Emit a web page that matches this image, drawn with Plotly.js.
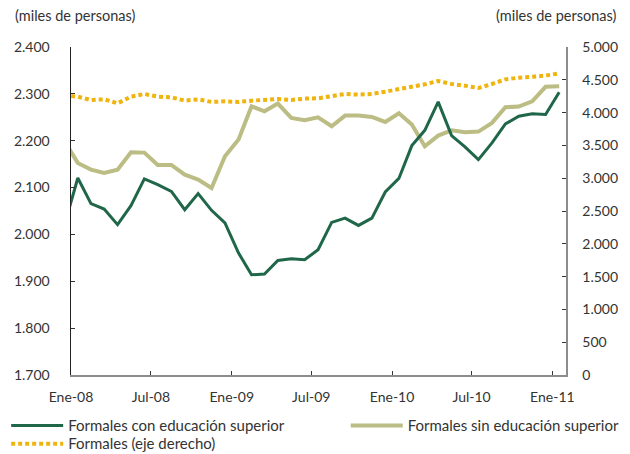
<!DOCTYPE html>
<html><head><meta charset="utf-8">
<script src="https://cdn.plot.ly/plotly-3.0.1.min.js"></script>
<style>html,body{margin:0;padding:0;background:#fff}#chart{width:630px;height:454px}</style>
</head><body><div id="chart"></div>
<script>
const months = [
  "2007-12-01",
  "2008-01-01","2008-02-01","2008-03-01","2008-04-01","2008-05-01","2008-06-01",
  "2008-07-01","2008-08-01","2008-09-01","2008-10-01","2008-11-01","2008-12-01",
  "2009-01-01","2009-02-01","2009-03-01","2009-04-01","2009-05-01","2009-06-01",
  "2009-07-01","2009-08-01","2009-09-01","2009-10-01","2009-11-01","2009-12-01",
  "2010-01-01","2010-02-01","2010-03-01","2010-04-01","2010-05-01","2010-06-01",
  "2010-07-01","2010-08-01","2010-09-01","2010-10-01","2010-11-01","2010-12-01",
  "2011-01-01"
];
const conEducacion = [2017.6,
  2120.5,2065.7,2054.3,2020.8,2061.4,2118.4,2106.3,2092.0,2052.8,2087.0,2051.4,2024.4,
  1960.3,1913.9,1915.4,1944.4,1948.0,1945.9,1967.3,2025.6,2034.8,2019.2,2034.8,2090.6,
  2119.5,2189.5,2222.2,2282.9,2210.9,2186.7,2159.6,2195.3,2235.9,2252.1,2257.3,2255.8,
  2303.4];
const sinEducacion = [2199.7,
  2152.6,2138.3,2131.2,2138.3,2175.4,2174.6,2148.3,2148.3,2127.6,2116.9,2099.0,2166.8,
  2202.4,2273.5,2262.8,2279.3,2248.7,2243.7,2250.0,2230.8,2253.6,2253.6,2250.8,2240.0,
  2258.5,2234.4,2188.0,2210.9,2222.2,2218.0,2219.4,2238.0,2271.4,2272.9,2284.2,2315.0,
  2316.3];
const formales = [4264,
  4243,4192,4202,4141,4243,4284,4243,4233,4182,4202,4162,4172,
  4162,4182,4192,4207,4192,4213,4218,4253,4284,4274,4284,4319,
  4355,4401,4431,4482,4436,4411,4375,4436,4507,4532,4548,4563,
  4599];
const tickDates = ["2008-01-01","2008-07-01","2009-01-01","2009-07-01","2010-01-01","2010-07-01","2011-01-01"];
const tickLabels = ["Ene-08","Jul-08","Ene-09","Jul-09","Ene-10","Jul-10","Ene-11"];
const names = ["Formales con educación superior","Formales sin educación superior","Formales (eje derecho)"];

const fam = "Lato, 'Open Sans', sans-serif";
const tickFont = {family:fam, size:14, color:"#333"};
const legFont = {family:fam, size:15, color:"#333"};
const common = {x: months, xperiod: "M1", xperiodalignment: "middle", mode: "lines", hoverinfo: "skip"};
const traces = [
  Object.assign({}, common, {y: sinEducacion, name: names[1], legend:"legend2", line:{color:"#bcbd84", width:4}}),
  Object.assign({}, common, {y: conEducacion, name: names[0], legend:"legend", line:{color:"#20674a", width:3}}),
  Object.assign({}, common, {y: formales, name: names[2], legend:"legend3", yaxis:"y2", line:{color:"#f0b40f", width:4, dash:"4px,3px"}})
];
const legBase = {orientation:"v", xanchor:"left", yanchor:"top",
  font: legFont, itemwidth: 52, tracegroupgap: 0, bgcolor: "rgba(0,0,0,0)", borderwidth:0};
const layout = {
  width:630, height:454,
  margin:{l:71, r:64, t:47, b:79, autoexpand:false},
  paper_bgcolor:"#fff", plot_bgcolor:"#fff",
  font: tickFont,
  separators: ",.",
  showlegend: true,
  legend: Object.assign({}, legBase, {x:-0.131, y:-0.1048}),
  legend2: Object.assign({}, legBase, {x:0.555, y:-0.1048}),
  legend3: Object.assign({}, legBase, {x:-0.131, y:-0.1597}),
  xaxis: {type:"date", range:["2008-01-01","2011-02-01"], tickvals: tickDates, ticktext: tickLabels,
    ticks:"inside", ticklen:4, tickcolor:"#333", tickwidth:1,
    showline:true, linecolor:"#8c8c8c", linewidth:1.5, showgrid:false, zeroline:false,
    tickfont: tickFont, ticklabelstandoff: 9},
  yaxis: {range:[1700,2400], dtick:100, tickformat:",.0f",
    ticks:"inside", ticklen:4, tickcolor:"#333", tickwidth:1,
    showline:true, linecolor:"#222", linewidth:1.5, showgrid:false, zeroline:false,
    tickfont: tickFont, ticklabelstandoff: 17},
  yaxis2: {overlaying:"y", side:"right", range:[0,5000], dtick:500, tickformat:",.0f",
    ticks:"inside", ticklen:4, tickcolor:"#333", tickwidth:1,
    showline:true, linecolor:"#8c8c8c", linewidth:1.5, showgrid:false, zeroline:false,
    tickfont: tickFont, ticklabelstandoff: 12},
  annotations: [
    {text:"(miles de personas)", xref:"paper", yref:"paper", x:-0.118, y:1.097, xanchor:"left", yanchor:"middle", showarrow:false, font:{family:fam, size:14.5, color:"#333"}},
    {text:"(miles de personas)", xref:"paper", yref:"paper", x:1.106, y:1.097, xanchor:"right", yanchor:"middle", showarrow:false, font:{family:fam, size:14.5, color:"#333"}}
  ]
};
Plotly.newPlot("chart", traces, layout, {staticPlot:true, displayModeBar:false});
</script>
</body></html>
